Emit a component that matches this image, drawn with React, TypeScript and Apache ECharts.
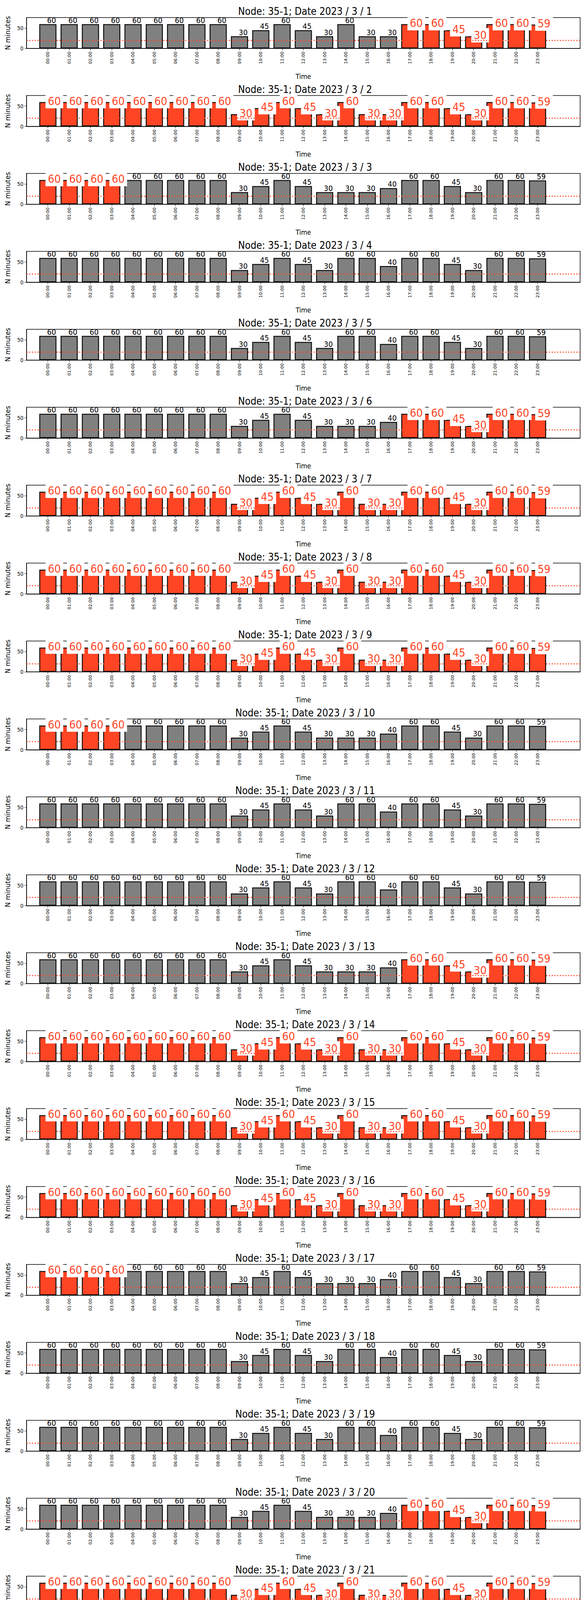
import React, { useEffect, useRef } from "react";
import * as echarts from "echarts";

const hours = [
  "00:00", "01:00", "02:00", "03:00", "04:00", "05:00", "06:00", "07:00",
  "08:00", "09:00", "10:00", "11:00", "12:00", "13:00", "14:00", "15:00",
  "16:00", "17:00", "18:00", "19:00", "20:00", "21:00", "22:00", "23:00",
];

// three recurring daily profiles (minutes per hour)
const profileA = [60, 60, 60, 60, 60, 60, 60, 60, 60, 30, 45, 60, 45, 30, 60, 30, 30, 60, 60, 45, 30, 60, 60, 59];
const profileB = [60, 60, 60, 60, 60, 60, 60, 60, 60, 30, 45, 60, 45, 30, 30, 30, 40, 60, 60, 45, 30, 60, 60, 59];
const profileC = [60, 60, 60, 60, 60, 60, 60, 60, 60, 30, 45, 60, 45, 30, 60, 60, 40, 60, 60, 45, 30, 60, 60, 59];

const dayProfiles = [
  profileA, profileA, profileB, profileC, profileC, profileB, profileA,
  profileA, profileA, profileB, profileC, profileC, profileB, profileA,
  profileA, profileA, profileB, profileC, profileC, profileB, profileA,
  profileA, profileA, profileB, profileC, profileC, profileB, profileA,
  profileA, profileA,
];

// which hours are flagged (red) each day
const dayFlags = [
  "eve", "all", "night", "none", "none", "eve", "all",
  "all", "all", "night", "none", "none", "eve", "all",
  "all", "all", "night", "none", "none", "eve", "all",
  "all", "all", "night", "none", "none", "eve", "all",
  "all", "all",
];

const threshold = 20;
const RED = "#ff4524";
const FONT = "'DejaVu Sans Condensed', 'Liberation Sans Narrow', 'DejaVu Sans', sans-serif";

const isFlagged = (flag: string, h: number) =>
  flag === "all" || (flag === "eve" && h >= 17) || (flag === "night" && h <= 3);

export default function App() {
  const ref = useRef<HTMLDivElement>(null);

  useEffect(() => {
    document.body.style.margin = "0";
    if (!ref.current) return;
    const chart = echarts.init(ref.current, undefined, { renderer: "svg" });
    const step = 199.5;
    const cats = ["", ...hours, "", ""];

    const grids: any[] = [];
    const titles: any[] = [];
    const xAxes: any[] = [];
    const yAxes: any[] = [];
    const series: any[] = [];

    dayProfiles.forEach((vals, d) => {
      const top = 45 + d * step;
      grids.push({ left: 68, right: 15, top, height: 79, show: true, borderColor: "#000", borderWidth: 1.5, backgroundColor: "transparent" });
      titles.push({
        text: `Node: 35-1; Date 2023 / 3 / ${d + 1}`,
        left: 776, top: top - 34, textAlign: "center",
        textStyle: { fontFamily: FONT, fontSize: 26, fontWeight: "normal", color: "#000" },
      });
      xAxes.push({
        type: "category", gridIndex: d, data: cats, boundaryGap: false,
        name: "Time", nameLocation: "middle", nameGap: 62,
        nameTextStyle: { fontFamily: FONT, fontSize: 18, color: "#000" },
        axisLine: { lineStyle: { color: "#000", width: 1.5 } },
        axisTick: { interval: (i: number, v: string) => v !== "", length: 5, lineStyle: { color: "#000" } },
        axisLabel: { interval: 0, rotate: 90, fontSize: 11, color: "#000", fontFamily: "DejaVu Sans", margin: 8 },
        splitLine: { show: false },
      });
      yAxes.push({
        type: "value", gridIndex: d, min: 0, max: 76,
        name: "N minutes", nameLocation: "middle", nameGap: 40,
        nameTextStyle: { fontFamily: "DejaVu Sans", fontSize: 17, color: "#000" },
        axisLine: { show: true, lineStyle: { color: "#000", width: 1.5 } },
        axisTick: { show: true, customValues: [0, 50], length: 5, lineStyle: { color: "#000" } },
        axisLabel: { customValues: [0, 50], fontSize: 14, color: "#000", fontFamily: FONT },
        splitLine: { show: false },
      });
      const flag = dayFlags[d];
      const data: any[] = ["-"];
      vals.forEach((v, h) => {
        const red = isFlagged(flag, h);
        data.push({
          value: v,
          itemStyle: { color: red ? RED : "#808080", borderColor: "#111", borderWidth: 2.5 },
          label: red
            ? {
                show: true, position: "top", distance: -16, align: "left", offset: [-6, 0],
                color: RED, fontSize: 29, fontFamily: FONT,
                backgroundColor: "#fff", padding: [4, 6],
              }
            : {
                show: true, position: "top", distance: 0, align: "left", offset: [-2, 0],
                color: "#000", fontSize: 20, fontFamily: FONT,
              },
        });
      });
      data.push("-", "-");
      series.push({
        type: "bar", xAxisIndex: d, yAxisIndex: d, data, barWidth: 44,
        markLine: {
          silent: true, symbol: "none", label: { show: false },
          lineStyle: { color: RED, type: [3, 4], width: 2.5 },
          data: [{ yAxis: threshold }],
        },
      });
    });

    chart.setOption({
      animation: false,
      backgroundColor: "#fff",
      title: titles,
      grid: grids,
      xAxis: xAxes,
      yAxis: yAxes,
      series,
    });
    return () => chart.dispose();
  }, []);

  return <div ref={ref} style={{ width: 1500, height: 6000 }} />;
}
